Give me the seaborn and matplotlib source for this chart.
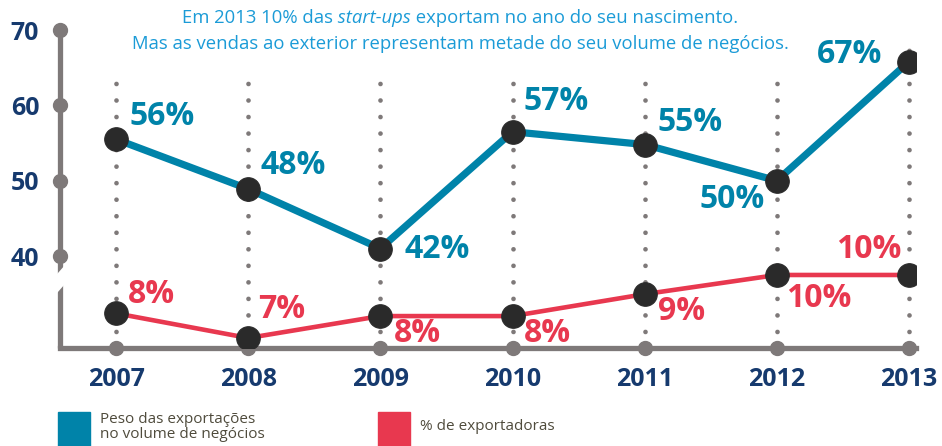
import pandas as pd
import matplotlib.pyplot as plt
import seaborn as sns
from matplotlib.patches import Rectangle

# Data
years = [2007, 2008, 2009, 2010, 2011, 2012, 2013]
peso = [55.5, 48.9, 41.0, 56.5, 54.8, 50.0, 65.8]          # peso das exportações (%)
peso_labels = ["56%", "48%", "42%", "57%", "55%", "50%", "67%"]
exportadoras = [8.1, 7.2, 8.0, 8.0, 8.8, 9.5, 9.5]         # % de exportadoras
exp_labels = ["8%", "7%", "8%", "8%", "9%", "10%", "10%"]
y_ticks = [40, 50, 60, 70]

df = pd.DataFrame({"ano": years, "peso": peso, "exportadoras": exportadoras})

# Label offsets (pixels, from point to text centre)
peso_off = [(46, 23), (45, 24), (57, -1), (44, 30), (45, 22), (-45, -19), (-59, 7)]
exp_off = [(35, 19), (33, 28), (37, -17), (35, -17), (37, -17), (42, -24), (-40, 25)]

BLUE = "#0083a9"
RED = "#e8384f"
DARK = "#2a2a2a"
GRAY = "#7e7979"
NAVY = "#163a6e"
TITLE = "#1b9bd7"

sns.set_style("white")
plt.rcParams["font.family"] = ["Open Sans", "DejaVu Sans"]

fig = plt.figure(figsize=(9.42, 4.46), dpi=100)
ax = fig.add_axes([60 / 942, 98 / 446, 855.6 / 942, 318 / 446])
ax2 = ax.twinx()

x0, x1 = 2006.576, 2013.05
ymin, ymax = 27.8, 70
ax.set_xlim(x0, x1)
ax.set_ylim(ymin, ymax)
ax2.set_ylim(6.835, 18.44)

# dotted guides
guide_tops = [64.7] * 6 + [68.0]
for yr, top in zip(years, guide_tops):
    ax.plot([yr, yr], [ymin, top], color=GRAY, lw=3.4,
            linestyle=(0, (0.001, 3.5)), dash_capstyle="round", zorder=1)

# left axis with break
ax.plot([x0, x0], [ymin, ymax], color=GRAY, lw=3.8, solid_capstyle="butt",
        clip_on=False, zorder=2)
ax.plot([x0 - 0.09, x0 + 0.09], [35.0, 38.6], color="white", lw=9,
        solid_capstyle="butt", clip_on=False, zorder=2.5)
ax.plot([x0] * len(y_ticks), y_ticks, "o", ms=10, color=GRAY, clip_on=False, zorder=3)
ax.plot(years, [ymin] * len(years), "o", ms=10, color=GRAY, clip_on=False, zorder=3)

sns.lineplot(data=df, x="ano", y="peso", ax=ax, color=BLUE, lw=5.2,
             marker="o", markersize=17, markerfacecolor=DARK,
             markeredgecolor=DARK, zorder=4)
sns.lineplot(data=df, x="ano", y="exportadoras", ax=ax2, color=RED, lw=3.3,
             marker="o", markersize=17, markerfacecolor=DARK,
             markeredgecolor=DARK, zorder=4)

for yr, v, lab, (dx, dy) in zip(years, peso, peso_labels, peso_off):
    ax.annotate(lab, (yr, v), xytext=(dx, dy), textcoords="offset pixels",
                ha="center", va="center", fontsize=23, fontweight="bold", color=BLUE)
for yr, v, lab, (dx, dy) in zip(years, exportadoras, exp_labels, exp_off):
    ax2.annotate(lab, (yr, v), xytext=(dx, dy), textcoords="offset pixels",
                 ha="center", va="center", fontsize=23, fontweight="bold", color=RED)

for a in (ax, ax2):
    for s in ("top", "right", "left"):
        a.spines[s].set_visible(False)
    a.set_xlabel("")
    a.set_ylabel("")
ax2.spines["bottom"].set_visible(False)
ax2.set_yticks([])
ax.spines["bottom"].set_color(GRAY)
ax.spines["bottom"].set_linewidth(3.8)
ax.spines["bottom"].set_zorder(2)

ax.set_yticks(y_ticks)
ax.set_xticks(years)
ax.tick_params(axis="y", length=0, pad=15, labelsize=18, labelcolor=NAVY)
ax.tick_params(axis="x", length=0, pad=14, labelsize=18, labelcolor=NAVY)
for lbl in ax.get_xticklabels() + ax.get_yticklabels():
    lbl.set_fontweight("bold")

# title, first line has an italic word
renderer = fig.canvas.get_renderer()
parts = [("Em 2013 10% das", "normal"), (" start-ups", "italic"),
         (" exportam no ano do seu nascimento.", "normal")]
texts = [fig.text(0, 1 - 18 / 446, s, style=st, fontsize=13.3, color=TITLE, va="center")
         for s, st in parts]
widths = [t.get_window_extent(renderer).width for t in texts]
xpos = 460 - sum(widths) / 2
for t, w in zip(texts, widths):
    t.set_x(xpos / 942)
    xpos += w
fig.text(460 / 942, 1 - 44 / 446,
         "Mas as vendas ao exterior representam metade do seu volume de negócios.",
         fontsize=13.3, color=TITLE, ha="center", va="center")

# legend
fig.add_artist(Rectangle((58 / 942, 0), 32 / 942, 34 / 446,
                         transform=fig.transFigure, color=BLUE))
fig.text(100 / 942, 19 / 446, "Peso das exportações\nno volume de negócios",
         fontsize=11, color="#4f4b3c", va="center", linespacing=0.95)
fig.add_artist(Rectangle((378 / 942, 0), 32 / 942, 34 / 446,
                         transform=fig.transFigure, color=RED))
fig.text(420 / 942, 19 / 446, "% de exportadoras",
         fontsize=11, color="#4f4b3c", va="center")

fig.savefig("out.png", dpi=100)
